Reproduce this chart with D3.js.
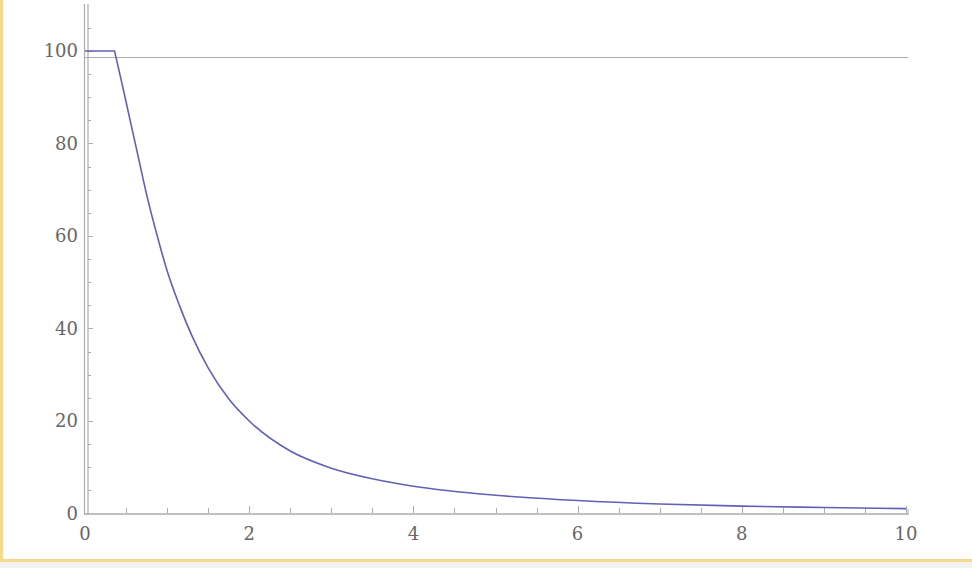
<!DOCTYPE html>
<html>
<head>
<meta charset="utf-8">
<script src="https://cdn.jsdelivr.net/npm/d3@7"></script>
<style>
  html, body { margin: 0; padding: 0; background: #f2f2f2; }
  #chart { width: 972px; height: 568px; }
</style>
</head>
<body>
<div id="chart"></div>
<script>
// curve points (flat at 100 until the kink)
const xValues = [0, 0.36, 0.45, 0.55, 0.65, 0.75, 0.88, 1.0, 1.15, 1.3, 1.5, 1.75, 2.0, 2.5, 3.0, 3.5, 4.0, 5.0, 6.0, 7.0, 8.0, 9.0, 10.0];
const yValues = [100, 100, 93, 85, 77, 69, 60, 52.5, 45, 38.5, 31.5, 24.8, 20, 13.5, 9.8, 7.5, 5.9, 3.95, 2.8, 2.05, 1.6, 1.3, 1.05];
const refLine = 98.8;

const xTicks = [0, 2, 4, 6, 8, 10];
const yTicks = [0, 20, 40, 60, 80, 100];

const W = 972, H = 568;

const svg = d3.select("#chart").append("svg")
  .attr("width", W).attr("height", H);

// card background with yellow edge
svg.append("rect").attr("x", 0).attr("y", 0).attr("width", W).attr("height", 562).attr("fill", "#f6d98d");
svg.append("rect").attr("x", 3).attr("y", 0).attr("width", W - 3).attr("height", 559).attr("fill", "#fff");

const x = d3.scaleLinear().domain([0, 10]).range([85, 906]);
const y = d3.scaleLinear().domain([0, 100]).range([513.5, 51]);

const axisColor = "#ababab";
const labelFont = "DejaVu Serif, serif";

// horizontal reference line
svg.append("line")
  .attr("x1", 84).attr("x2", 908)
  .attr("y1", Math.round(y(refLine)) + 0.5).attr("y2", Math.round(y(refLine)) + 0.5)
  .attr("stroke", axisColor).attr("stroke-width", 1.2);

// y axis (double line)
[84.5, 88].forEach((px) => {
  svg.append("line")
    .attr("x1", px).attr("x2", px)
    .attr("y1", 4).attr("y2", 514.5)
    .attr("stroke", axisColor).attr("stroke-width", 1.2);
});

// x axis
svg.append("line")
  .attr("x1", 84).attr("x2", 908.5)
  .attr("y1", 514).attr("y2", 514)
  .attr("stroke", axisColor).attr("stroke-width", 1.5);
svg.append("line")
  .attr("x1", 908).attr("x2", 908)
  .attr("y1", 509).attr("y2", 515)
  .attr("stroke", axisColor).attr("stroke-width", 1);

// x ticks
const xMinor = d3.range(0.5, 10.01, 0.5);
svg.append("g").selectAll("line").data(xMinor).join("line")
  .attr("x1", (d) => Math.round(x(d)) + 0.5).attr("x2", (d) => Math.round(x(d)) + 0.5)
  .attr("y1", 513).attr("y2", (d) => (d % 2 === 0 ? 506 : 508))
  .attr("stroke", axisColor).attr("stroke-width", 1);

svg.append("g").selectAll("text").data(xTicks).join("text")
  .attr("x", (d) => x(d)).attr("y", 540)
  .attr("text-anchor", "middle")
  .attr("font-family", labelFont).attr("font-size", 18)
  .attr("fill", "#666")
  .text((d) => d);

// y ticks
const yMinor = d3.range(5, 106, 5);
svg.append("g").selectAll("line").data(yMinor).join("line")
  .attr("x1", 88).attr("x2", (d) => (d % 20 === 0 ? 93 : 91))
  .attr("y1", (d) => Math.round(y(d)) + 0.5).attr("y2", (d) => Math.round(y(d)) + 0.5)
  .attr("stroke", axisColor).attr("stroke-width", 1);

svg.append("g").selectAll("text").data(yTicks).join("text")
  .attr("x", 78).attr("y", (d) => y(d) + 6)
  .attr("text-anchor", "end")
  .attr("font-family", labelFont).attr("font-size", 18)
  .attr("fill", "#666")
  .text((d) => d);

// curve: straight flat part, then a smooth decay from the kink
const points = xValues.map((v, i) => [v, yValues[i]]);
const line = d3.line()
  .x((d) => x(d[0]))
  .y((d) => y(d[1]))
  .curve(d3.curveMonotoneX);

const pathD = `M${x(points[0][0])},${y(points[0][1])}` +
  line(points.slice(1)).replace(/^M/, "L");

svg.append("path")
  .attr("d", pathD)
  .attr("fill", "none")
  .attr("stroke", "#6060b6")
  .attr("stroke-width", 1.6);
</script>
</body>
</html>
